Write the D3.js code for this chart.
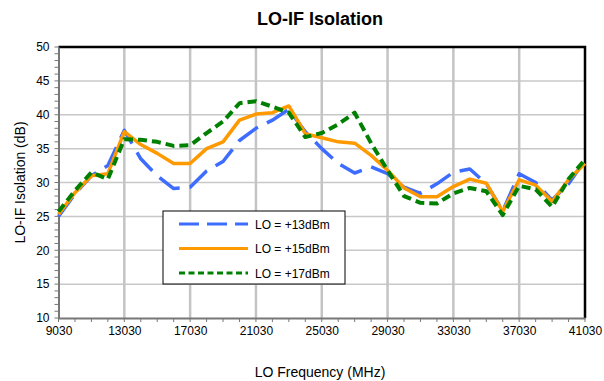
<!DOCTYPE html>
<html><head><meta charset="utf-8">
<script src="https://cdn.jsdelivr.net/npm/d3@7"></script>
<style>body{margin:0;background:#fff}svg{display:block;font-family:Arial,"Liberation Sans",sans-serif}</style>
</head><body>
<svg id="c" width="604" height="381"></svg>
<script>
const freqs = d3.range(9030, 41031, 1000);
const lo13 = [25.0,28.3,31.0,32.5,37.7,33.5,31.0,29.1,29.3,31.7,33.1,36.2,38.0,39.2,40.8,37.5,35.0,32.8,31.4,32.3,31.3,29.3,28.4,29.8,31.5,32.0,29.8,25.8,31.3,30.0,27.4,29.8,33.3];
const lo15 = [25.3,28.5,31.0,31.3,37.5,35.6,34.3,32.8,32.8,35.0,36.0,39.2,40.1,40.3,41.3,37.2,36.6,36.0,35.8,34.0,31.8,29.2,27.9,27.9,29.4,30.5,29.9,25.7,30.4,29.6,27.2,30.4,32.8];
const lo17 = [25.7,28.8,31.5,30.5,36.4,36.3,36.0,35.4,35.5,37.3,39.0,41.7,42.0,41.2,40.3,36.7,37.3,38.6,40.3,35.8,31.8,28.0,27.0,26.9,28.4,29.2,28.7,25.2,29.5,29.0,26.4,30.5,33.4];
const xTicks = [9030,13030,17030,21030,25030,29030,33030,37030,41030];
const yTicks = [10,15,20,25,30,35,40,45,50];
const seriesNames = ["LO = +13dBm","LO = +15dBm","LO = +17dBm"];

const svg = d3.select("#c");
const L=58.5, R=585, T=47, B=318;
const x = d3.scaleLinear().domain([9030,41030]).range([L,R]);
const y = d3.scaleLinear().domain([10,50]).range([B,T]);

// gridlines
svg.append("g").selectAll("line").data(yTicks.filter(v=>v>10&&v<50)).join("line")
  .attr("x1",L).attr("x2",R).attr("y1",d=>y(d)).attr("y2",d=>y(d))
  .attr("stroke","#c8c8c8").attr("stroke-width",1.5);
svg.append("g").selectAll("line").data(xTicks.filter(v=>v>9030&&v<41030)).join("line")
  .attr("y1",T).attr("y2",B).attr("x1",d=>x(d)).attr("x2",d=>x(d))
  .attr("stroke","#c4c4c4").attr("stroke-width",2.5);

// border top/right
svg.append("path").attr("d",`M${L},${T}H${R}V${B}`).attr("fill","none").attr("stroke","#000").attr("stroke-width",2.5);

// axes
const yAxis = d3.axisLeft(y).tickValues(yTicks).tickSize(0).tickPadding(9).tickFormat(d3.format("d"));
const gy = svg.append("g").attr("transform",`translate(${L},0)`).call(yAxis);
gy.select(".domain").attr("stroke","#777").attr("stroke-width",2);
gy.selectAll("text").attr("font-size",12).attr("fill","#000").style("font-family","Arial, 'Liberation Sans', sans-serif");
svg.append("g").selectAll("line").data(d3.range(10,51,1)).join("line")
  .attr("x1",L-4).attr("x2",L).attr("y1",d=>y(d)).attr("y2",d=>y(d)).attr("stroke","#777").attr("stroke-width",1);

const xAxis = d3.axisBottom(x).tickValues(xTicks).tickSize(0).tickPadding(8).tickFormat(d3.format("d"));
const gx = svg.append("g").attr("transform",`translate(0,${B})`).call(xAxis);
gx.select(".domain").attr("stroke","#777").attr("stroke-width",2);
gx.selectAll("text").attr("font-size",12).attr("fill","#000").style("font-family","Arial, 'Liberation Sans', sans-serif");
svg.append("g").selectAll("line").data(d3.range(9030,41031,1000)).join("line")
  .attr("x1",d=>x(d)).attr("x2",d=>x(d)).attr("y1",B).attr("y2",B+4).attr("stroke","#777").attr("stroke-width",1);

// lines
const line = d3.line().x((d,i)=>x(freqs[i])).y(d=>y(d));
const styles = [
  {data:lo13,color:"#3d6cff",w:3.5,dash:"24,10"},
  {data:lo15,color:"#ff9900",w:3.5,dash:null},
  {data:lo17,color:"#008000",w:4,dash:"9,5"}
];
styles.forEach(s=>{
  svg.append("path").datum(s.data).attr("d",line).attr("fill","none")
    .attr("stroke",s.color).attr("stroke-width",s.w).attr("stroke-linejoin","round")
    .attr("stroke-dasharray",s.dash);
});

// legend
const lg = svg.append("g");
lg.append("rect").attr("x",163).attr("y",211).attr("width",182).attr("height",73)
  .attr("fill","#fff").attr("stroke","#000").attr("stroke-width",1);
const legDash=["20,8","none","6,3.5"];
styles.forEach((s,i)=>{
  const yy = 224 + i*24.5;
  lg.append("line").attr("x1",179).attr("x2",248).attr("y1",yy).attr("y2",yy)
    .attr("stroke",s.color).attr("stroke-width",3).attr("stroke-dasharray",legDash[i]);
  lg.append("text").attr("x",255).attr("y",yy+4.5).attr("font-size",12).text(seriesNames[i]);
});

// titles
svg.append("text").attr("x",320).attr("y",25).attr("text-anchor","middle")
  .attr("font-size",18).attr("font-weight","bold").text("LO-IF Isolation");
svg.append("text").attr("x",320).attr("y",377).attr("text-anchor","middle")
  .attr("font-size",14).text("LO Frequency (MHz)");
svg.append("text").attr("transform",`translate(25,${(T+B)/2}) rotate(-90)`).attr("text-anchor","middle")
  .attr("font-size",14).text("LO-IF Isolation (dB)");
</script>
</body></html>
